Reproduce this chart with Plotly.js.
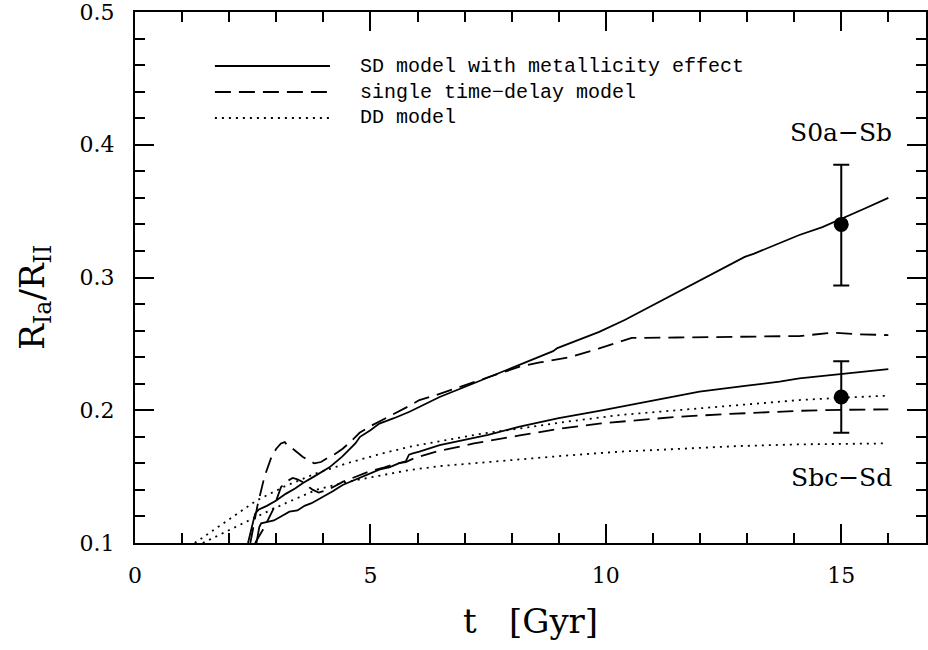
<!DOCTYPE html>
<html>
<head>
<meta charset="utf-8">
<script src="https://cdn.plot.ly/plotly-3.0.1.min.js"></script>
<style>
  html, body { margin: 0; padding: 0; background: #fff; }
  #chart { width: 928px; height: 650px; }
</style>
</head>
<body>
<div id="chart"></div>
<script>
// ---- Data ----
// SD model with metallicity effect, S0a-Sb (upper solid)
const sdEarlyX = [2.40, 2.55, 2.62, 2.8, 3.0, 3.2, 3.4, 3.56, 3.8, 4.13, 4.4, 4.68, 4.78, 5.0, 5.19, 5.5, 5.83, 6.04, 6.47, 7.0, 7.5, 8.0, 8.52, 8.88, 8.97, 9.4, 9.86, 10.4, 10.93, 11.5, 11.99, 12.5, 12.95, 13.15, 13.69, 14.11, 14.6, 15.0, 15.5, 16.0];
const sdEarlyY = [0.100, 0.122, 0.125, 0.128, 0.132, 0.137, 0.141, 0.145, 0.150, 0.157, 0.165, 0.175, 0.180, 0.185, 0.190, 0.194, 0.1989, 0.2026, 0.210, 0.2175, 0.2246, 0.2317, 0.239, 0.2445, 0.2468, 0.2525, 0.259, 0.268, 0.278, 0.2885, 0.298, 0.307, 0.3155, 0.318, 0.3257, 0.332, 0.338, 0.344, 0.352, 0.360];

// SD model with metallicity effect, Sbc-Sd (lower solid)
const sdLateX = [2.58, 2.64, 2.68, 2.8, 2.95, 3.1, 3.28, 3.45, 3.6, 3.75, 3.85, 4.0, 4.2, 4.41, 4.6, 4.8, 4.98, 5.2, 5.4, 5.6, 5.75, 5.82, 5.9, 6.04, 6.47, 7.0, 7.5, 8.17, 9.0, 9.86, 10.29, 11.0, 11.99, 13.0, 13.69, 14.11, 15.0, 16.0];
const sdLateY = [0.100, 0.112, 0.1148, 0.116, 0.117, 0.120, 0.1236, 0.1245, 0.128, 0.130, 0.132, 0.1345, 0.139, 0.1437, 0.1465, 0.150, 0.1525, 0.1555, 0.157, 0.160, 0.1615, 0.1665, 0.1675, 0.1688, 0.1738, 0.178, 0.1815, 0.1876, 0.194, 0.1996, 0.2026, 0.2075, 0.214, 0.2185, 0.2215, 0.224, 0.2275, 0.231];

// single time-delay model, S0a-Sb (upper dashed)
const tdEarlyX = [2.45, 2.6, 2.75, 2.9, 3.0, 3.1, 3.18, 3.25, 3.35, 3.45, 3.56, 3.7, 3.81, 3.95, 4.13, 4.25, 4.41, 4.6, 4.77, 5.0, 5.26, 5.79, 6.04, 6.4, 7.32, 8.17, 8.6, 9.23, 9.86, 10.29, 10.55, 11.5, 12.5, 13.5, 14.11, 14.82, 15.4, 16.0];
const tdEarlyY = [0.100, 0.128, 0.150, 0.165, 0.171, 0.175, 0.176, 0.173, 0.171, 0.168, 0.165, 0.162, 0.160, 0.161, 0.165, 0.167, 0.171, 0.177, 0.183, 0.188, 0.1926, 0.2026, 0.2077, 0.2115, 0.2227, 0.2328, 0.236, 0.240, 0.2466, 0.2516, 0.2545, 0.2548, 0.2552, 0.2556, 0.2559, 0.2584, 0.2572, 0.2566];

// single time-delay model, Sbc-Sd (lower dashed)
const tdLateX = [2.55, 2.75, 2.93, 3.1, 3.2, 3.35, 3.45, 3.56, 3.7, 3.78, 3.9, 4.1, 4.41, 4.7, 4.98, 5.3, 5.55, 5.75, 5.94, 6.4, 7.2, 8.17, 9.0, 9.86, 10.29, 10.72, 11.5, 12.5, 13.5, 14.11, 15.0, 16.0];
const tdLateY = [0.100, 0.112, 0.125, 0.142, 0.146, 0.149, 0.148, 0.146, 0.142, 0.140, 0.138, 0.140, 0.146, 0.150, 0.154, 0.157, 0.160, 0.161, 0.164, 0.1688, 0.175, 0.181, 0.186, 0.190, 0.1913, 0.193, 0.195, 0.197, 0.1985, 0.1996, 0.2003, 0.2007];

// DD model, S0a-Sb (upper dotted)
const ddEarlyX = [1.27, 2.0, 2.58, 3.2, 3.85, 4.5, 5.2, 5.83, 6.5, 7.3, 8.17, 9.2, 10.29, 11.5, 12.8, 14.11, 15.0, 16.0];
const ddEarlyY = [0.100, 0.118, 0.132, 0.143, 0.1525, 0.160, 0.167, 0.1725, 0.177, 0.182, 0.1863, 0.1915, 0.1964, 0.200, 0.204, 0.2077, 0.2094, 0.211];

// DD model, Sbc-Sd (lower dotted)
const ddLateX = [1.44, 2.0, 2.58, 3.2, 3.85, 4.5, 5.2, 5.83, 6.5, 7.3, 8.17, 9.2, 10.29, 11.5, 12.8, 14.11, 15.0, 15.9];
const ddLateY = [0.100, 0.110, 0.1198, 0.130, 0.140, 0.146, 0.151, 0.155, 0.158, 0.1605, 0.163, 0.166, 0.1688, 0.171, 0.173, 0.1743, 0.1748, 0.175];

// Observed ratios with error bars
const obsX = [15, 15];
const obsY = [0.34, 0.21];
const obsErrPlus = [0.045, 0.027];
const obsErrMinus = [0.046, 0.027];

// Tick labels
const xTickVals = [0, 5, 10, 15];
const xTickText = ["0", "5", "10", "15"];
const yTickVals = [0.1, 0.2, 0.3, 0.4, 0.5];
const yTickText = ["0.1", "0.2", "0.3", "0.4", "0.5"];

// Text
const legendLabels = ["SD model with metallicity effect", "single time\u2212delay model", "DD model"];
const groupLabels = ["S0a\u2212Sb", "Sbc\u2212Sd"];
const xTitle = "t\u00a0\u00a0\u00a0[Gyr]";
const yTitle = "R<sub>Ia</sub>/R<sub>II</sub>";

// ---- Styles ----
const LW = 1.8;
const solid = {color: '#000', width: LW, dash: 'solid'};
const dashed = {color: '#000', width: LW, dash: '16px,8px'};
const dotted = {color: '#000', width: LW, dash: '2px,5px'};
const SERIF = 'DejaVu Serif, serif';
const MONO = 'Liberation Mono, monospace';

function line(x, y, style) {
  return {x: x, y: y, type: 'scatter', mode: 'lines', line: style, hoverinfo: 'skip', showlegend: false};
}

const traces = [
  line(sdEarlyX, sdEarlyY, solid),
  line(sdLateX, sdLateY, solid),
  line(tdEarlyX, tdEarlyY, dashed),
  line(tdLateX, tdLateY, dashed),
  line(ddEarlyX, ddEarlyY, dotted),
  line(ddLateX, ddLateY, dotted),
  {
    x: obsX, y: obsY, type: 'scatter', mode: 'markers',
    marker: {color: '#000', size: 15},
    error_y: {type: 'data', symmetric: false, array: obsErrPlus, arrayminus: obsErrMinus,
              color: '#000', thickness: 2, width: 8},
    showlegend: false, hoverinfo: 'skip'
  }
];

// Legend drawn as paper-referenced sample lines + text
const legendStyles = [solid, dashed, dotted];
const legendY = [0.8983, 0.8493, 0.8004];
const shapes = legendStyles.map((s, i) => ({
  type: 'line', xref: 'paper', yref: 'paper',
  x0: 0.101, x1: 0.2465, y0: legendY[i], y1: legendY[i],
  line: {color: '#000', width: s.width, dash: s.dash}
}));
const annotations = legendLabels.map((t, i) => ({
  text: t, xref: 'paper', yref: 'paper', x: 0.282, y: legendY[i],
  xanchor: 'left', yanchor: 'middle', showarrow: false,
  font: {family: MONO, size: 20, color: '#000'}
}));
annotations.push({
  text: groupLabels[0], xref: 'x', yref: 'y', x: 15, y: 0.409,
  xanchor: 'center', yanchor: 'middle', showarrow: false,
  font: {family: SERIF, size: 25, color: '#000'}
});
annotations.push({
  text: groupLabels[1], xref: 'x', yref: 'y', x: 15, y: 0.149,
  xanchor: 'center', yanchor: 'middle', showarrow: false,
  font: {family: SERIF, size: 25, color: '#000'}
});
// y-axis title as rotated annotation
annotations.push({
  text: yTitle, xref: 'paper', yref: 'paper', x: -0.1264, y: 0.462,
  xanchor: 'center', yanchor: 'middle', showarrow: false, textangle: -90,
  font: {family: SERIF, size: 34, color: '#000'}
});

const tickFont = {family: SERIF, size: 22, color: '#000'};

const layout = {
  width: 928, height: 650,
  margin: {l: 135, r: 2, t: 12, b: 107},
  paper_bgcolor: '#fff', plot_bgcolor: '#fff',
  showlegend: false,
  xaxis: {
    range: [0, 16.8], showgrid: false, zeroline: false,
    showline: true, linecolor: '#000', linewidth: 2, mirror: 'ticks',
    ticks: 'inside', ticklen: 19, tickwidth: 2, tickcolor: '#000',
    tickmode: 'array', tickvals: xTickVals, ticktext: xTickText,
    tickfont: tickFont, ticklabelstandoff: 12, ticklabeloverflow: 'allow',
    minor: {tickmode: 'linear', tick0: 0, dtick: 1, ticks: 'inside', ticklen: 10, tickwidth: 2, tickcolor: '#000', showgrid: false},
    title: {text: xTitle, font: {family: SERIF, size: 34, color: '#000'}, standoff: 22},
    automargin: false
  },
  yaxis: {
    range: [0.1, 0.5], showgrid: false, zeroline: false,
    showline: true, linecolor: '#000', linewidth: 2, mirror: 'ticks',
    ticks: 'inside', ticklen: 19, tickwidth: 2, tickcolor: '#000',
    tickmode: 'array', tickvals: yTickVals, ticktext: yTickText,
    tickfont: tickFont, ticklabelstandoff: 14, ticklabeloverflow: 'allow',
    minor: {tickmode: 'linear', tick0: 0.1, dtick: 0.02, ticks: 'inside', ticklen: 10, tickwidth: 2, tickcolor: '#000', showgrid: false},
    automargin: false
  },
  shapes: shapes,
  annotations: annotations
};

Plotly.newPlot('chart', traces, layout, {displayModeBar: false, staticPlot: true});
</script>
</body>
</html>
